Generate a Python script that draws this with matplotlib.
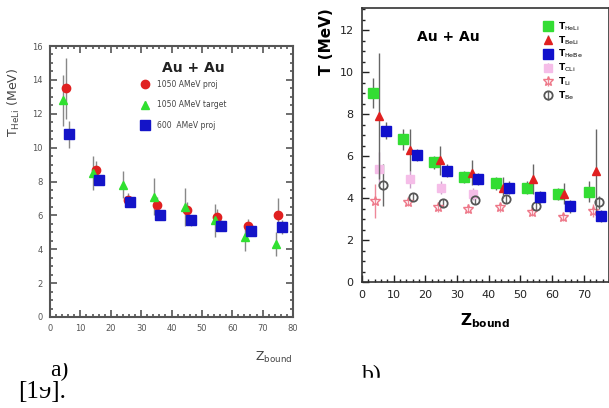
import matplotlib
matplotlib.use('Agg')
import matplotlib.pyplot as plt
from matplotlib.patches import Rectangle
from matplotlib.ticker import MultipleLocator

# panel a) T_HeLi vs Z_bound, Au + Au
za_red = [5.3, 15.0, 25.7, 35.2, 45.1, 55.0, 65.1, 75.0]
ta_red = [13.5, 8.7, 6.9, 6.6, 6.3, 5.9, 5.4, 6.0]
ea_red = [1.8, 0.5, 0.4, 0.5, 0.5, 0.5, 0.4, 1.0]

za_grn = [4.3, 14.2, 24.0, 34.2, 44.4, 54.3, 64.1, 74.3]
ta_grn = [12.8, 8.5, 7.8, 7.1, 6.5, 5.7, 4.7, 4.3]
ea_grn = [1.5, 1.0, 0.8, 1.1, 1.1, 1.0, 0.8, 0.7]

za_blu = [6.2, 16.2, 26.3, 36.2, 46.3, 56.2, 66.1, 76.3]
ta_blu = [10.8, 8.1, 6.8, 6.0, 5.7, 5.4, 5.1, 5.3]
ea_blu = [0.8, 0.3, 0.3, 0.3, 0.3, 0.3, 0.3, 0.4]

labels_a = ['1050 AMeV proj', '1050 AMeV target', '600  AMeV proj']

# panel b) several thermometers vs Z_bound
zb_1 = [3.5, 13.0, 22.8, 32.3, 42.4, 52.2, 62.0, 71.8]
tb_1 = [9.0, 6.8, 5.7, 5.0, 4.7, 4.5, 4.2, 4.3]
eb_1 = [0.7, 0.5, 0.3, 0.3, 0.3, 0.3, 0.3, 0.5]

zb_2 = [5.4, 15.2, 24.7, 34.8, 44.6, 54.1, 63.9, 74.0]
tb_2 = [7.9, 6.3, 5.8, 5.2, 4.5, 4.9, 4.2, 5.3]
eb_2 = [3.0, 1.0, 0.7, 0.6, 0.5, 0.7, 0.5, 2.0]

zb_3 = [7.6, 17.4, 26.9, 36.7, 46.5, 56.3, 65.8, 75.6]
tb_3 = [7.2, 6.05, 5.3, 4.9, 4.5, 4.05, 3.6, 3.15]
eb_3 = [0.4, 0.3, 0.3, 0.3, 0.3, 0.3, 0.3, 0.3]

zb_4 = [5.5, 15.3, 25.0, 35.0]
tb_4 = [5.4, 4.9, 4.5, 4.2]
eb_4 = [0.8, 0.4, 0.3, 0.3]

zb_5 = [4.1, 14.6, 24.0, 33.5, 43.7, 53.8, 63.6, 73.1]
tb_5 = [3.85, 3.8, 3.55, 3.5, 3.55, 3.35, 3.1, 3.4]
eb_5 = [0.8, 0.2, 0.2, 0.2, 0.2, 0.2, 0.2, 0.3]

zb_6 = [6.6, 16.1, 25.6, 35.8, 45.6, 55.1, 74.7]
tb_6 = [4.6, 4.05, 3.75, 3.9, 3.95, 3.6, 3.8]
eb_6 = [1.0, 0.2, 0.2, 0.2, 0.2, 0.2, 0.3]

labels_b = [r'T$_{\rm HeLi}$', r'T$_{\rm BeLi}$', r'T$_{\rm HeBe}$',
            r'T$_{\rm CLi}$', r'T$_{\rm Li}$', r'T$_{\rm Be}$']

fig = plt.figure(figsize=(6.09, 4.08), dpi=100)

# ---- panel a
ax1 = fig.add_axes([50/609, 1-317/408, 243/609, 271/408])
txt_a = '#444444'
ax1.errorbar(za_red, ta_red, yerr=ea_red, fmt='o', color='#e02020', ms=6,
             ecolor='#888888', elinewidth=1, label=labels_a[0], zorder=3)
ax1.errorbar(za_grn, ta_grn, yerr=ea_grn, fmt='^', color='#30e030', ms=6,
             ecolor='#888888', elinewidth=1, label=labels_a[1], zorder=3)
ax1.errorbar(za_blu, ta_blu, yerr=ea_blu, fmt='s', color='#1414c8', ms=6.5,
             ecolor='#888888', elinewidth=1, label=labels_a[2], zorder=4)
ax1.set_xlim(0, 80)
ax1.set_ylim(0, 16)
ax1.xaxis.set_major_locator(MultipleLocator(10))
ax1.xaxis.set_minor_locator(MultipleLocator(2))
ax1.yaxis.set_major_locator(MultipleLocator(2))
ax1.yaxis.set_minor_locator(MultipleLocator(0.5))
ax1.tick_params(which='both', direction='in', top=True, right=True,
                labelsize=6, colors='#555555', width=1.2)
ax1.tick_params(which='major', length=5, pad=5)
ax1.tick_params(which='minor', length=2.5)
for s in ax1.spines.values():
    s.set_linewidth(1.5)
    s.set_color('#555555')
ax1.set_ylabel(r'T$_{\rm HeLi}$ (MeV)', fontsize=9, color=txt_a, loc='top')
ax1.yaxis.set_label_coords(-0.115, 0.92)
ax1.set_xlabel(r'Z$_{\rm bound}$', fontsize=9, color=txt_a, loc='right',
               labelpad=12)
ax1.text(0.59, 0.92, 'Au + Au', transform=ax1.transAxes, fontsize=10,
         color='#222222', fontweight='bold', ha='center', va='center')
ax1.legend(loc='upper left', bbox_to_anchor=(0.33, 0.9), frameon=False,
           fontsize=5.5, labelcolor=txt_a, handletextpad=0.6,
           labelspacing=1.5, numpoints=1)

# ---- panel b
ax2 = fig.add_axes([362/609, 1-282/408, 247/609, 274/408])
ax2.errorbar(zb_1, tb_1, yerr=eb_1, fmt='s', color='#33dd33', ms=6.5,
             ecolor='#666666', elinewidth=1, label=labels_b[0], zorder=3)
ax2.errorbar(zb_2, tb_2, yerr=eb_2, fmt='^', color='#e02020', ms=6,
             ecolor='#666666', elinewidth=1, label=labels_b[1], zorder=3)
ax2.errorbar(zb_3, tb_3, yerr=eb_3, fmt='s', color='#1010cc', ms=6.5,
             ecolor='#666666', elinewidth=1, label=labels_b[2], zorder=4)
ax2.errorbar(zb_4, tb_4, yerr=eb_4, fmt='s', color='#f5bde8', ms=5.5,
             ecolor='#c8a0c8', elinewidth=1, label=labels_b[3], zorder=2)
ax2.errorbar(zb_5, tb_5, yerr=eb_5, fmt='*', color='#ee7788', mfc='none',
             ms=7, ecolor='#ee8899', elinewidth=1, label=labels_b[4], zorder=2)
ax2.errorbar(zb_6, tb_6, yerr=eb_6, fmt='o', color='#555555', mfc='none',
             ms=6, mew=1.3, ecolor='#666666', elinewidth=1,
             label=labels_b[5], zorder=2)
ax2.set_xlim(0, 78)
ax2.set_ylim(0, 13.05)
ax2.xaxis.set_major_locator(MultipleLocator(10))
ax2.xaxis.set_minor_locator(MultipleLocator(2))
ax2.yaxis.set_major_locator(MultipleLocator(2))
ax2.yaxis.set_minor_locator(MultipleLocator(0.5))
ax2.tick_params(which='both', direction='in', labelsize=8, width=1.0,
                colors='#222222')
ax2.tick_params(which='major', length=5, pad=6)
ax2.tick_params(which='minor', length=2.5)
for s in ax2.spines.values():
    s.set_linewidth(1.2)
    s.set_color('#333333')
ax2.set_ylabel('T (MeV)', fontsize=11, fontweight='bold', loc='top')
ax2.set_xlabel(r'Z$_{\rm\bf bound}$', fontsize=11, fontweight='bold',
               labelpad=8)
ax2.text(0.35, 0.88, 'Au + Au', transform=ax2.transAxes, fontsize=10,
         fontweight='bold', ha='center')
ax2.legend(loc='upper left', bbox_to_anchor=(0.7, 0.985), frameon=False,
           handletextpad=0.5, labelspacing=0.15, numpoints=1,
           handlelength=1.2, prop={'size': 6.5, 'weight': 'bold'})

# document text under the figures, partly clipped
fig.text(18/609, 1-398/408, '[19].', fontsize=18, family='Liberation Serif',
         va='baseline')
fig.patches.append(Rectangle((38/609, 1-386/408), 14/609, 10/408,
                             transform=fig.transFigure, color='white',
                             zorder=5))
fig.text(50/609, 1-376/408, 'a)', fontsize=17, family='Liberation Serif',
         va='baseline', zorder=6)
fig.patches.append(Rectangle((46/609, 1-362/408), 28/609, 12/408,
                             transform=fig.transFigure, color='white',
                             zorder=7))
fig.text(362/609, 1-381/408, 'b)', fontsize=17, family='Liberation Serif',
         va='baseline')
fig.patches.append(Rectangle((355/609, 1-392/408), 35/609, 14/408,
                             transform=fig.transFigure, color='white',
                             zorder=5))

fig.savefig('out.png', dpi=100)
